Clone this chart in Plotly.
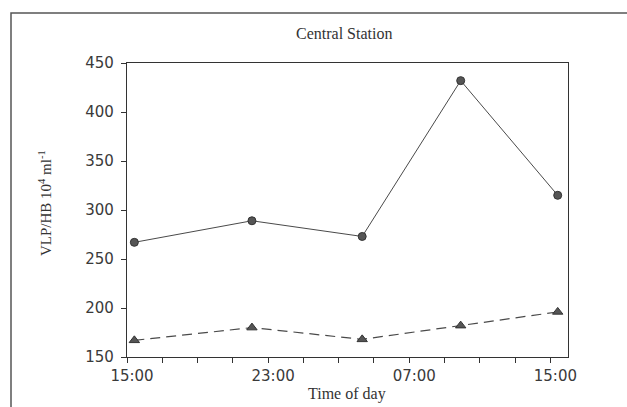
import plotly.graph_objects as go

# Data
times = ["2000-01-01 15:25", "2000-01-01 22:05", "2000-01-02 04:20",
         "2000-01-02 09:55", "2000-01-02 15:25"]
vlp_circle = [267, 289, 273, 432, 315]
vlp_triangle = [167, 180, 168, 182, 196]
y_ticks = [150, 200, 250, 300, 350, 400, 450]

W, H = 627, 407
L, R, T, B = 127, 59, 63, 50
pw, ph = W - L - R, H - T - B

def px_x(x):
    return (x - L) / pw

def px_y(y):
    return (H - B - y) / ph

fig = go.Figure()
fig.add_trace(go.Scatter(
    x=times, y=vlp_circle, mode="lines+markers",
    line=dict(color="#4a4a4a", width=1),
    marker=dict(symbol="circle", size=8, color="#555555",
                line=dict(color="#333333", width=1)),
    showlegend=False))
fig.add_trace(go.Scatter(
    x=times, y=vlp_triangle, mode="lines+markers",
    line=dict(color="#4a4a4a", width=1.2, dash="10px,6px"),
    marker=dict(symbol="triangle-up", size=9, color="#555555",
                line=dict(color="#333333", width=1)),
    showlegend=False))

axis_font = dict(family="DejaVu Sans", size=15, color="#3a3a3a")
serif = "Liberation Serif, Times New Roman, serif"

fig.update_xaxes(
    type="date",
    range=["2000-01-01 15:00", "2000-01-02 16:00"],
    tickmode="linear", tick0="2000-01-01 15:00", dtick=8 * 3600000,
    tickformat="%H:%M",
    ticks="outside", ticklen=5, tickcolor="#333333", tickwidth=1,
    minor=dict(ticks="outside", dtick=2 * 3600000, tick0="2000-01-01 15:00",
               ticklen=5, tickcolor="#333333", tickwidth=1, showgrid=False),
    showline=True, linecolor="#333333", linewidth=1.2, mirror=True,
    showgrid=False, zeroline=False, tickfont=axis_font,
    ticklabelstandoff=0, ticklabelshift=5,
)
fig.update_yaxes(
    range=[150, 450], tickmode="array", tickvals=y_ticks,
    ticks="outside", ticklen=5, tickcolor="#333333", tickwidth=1,
    showline=True, linecolor="#333333", linewidth=1.2, mirror=True,
    showgrid=False, zeroline=False, tickfont=axis_font,
    ticklabelstandoff=4,
)

fig.update_layout(
    width=W, height=H,
    margin=dict(l=L, r=R, t=T, b=B),
    paper_bgcolor="white", plot_bgcolor="white",
    annotations=[
        dict(text="Central Station", xref="paper", yref="paper",
             x=px_x(344), y=px_y(33), showarrow=False,
             xanchor="center", yanchor="middle",
             font=dict(family=serif, size=16, color="#333333")),
        dict(text="Time of day", xref="paper", yref="paper",
             x=px_x(347), y=px_y(394), showarrow=False,
             xanchor="center", yanchor="middle",
             font=dict(family=serif, size=16, color="#333333")),
        dict(text="VLP/HB 10<sup>4</sup> ml<sup>-1</sup>", xref="paper",
             yref="paper", x=px_x(45), y=px_y(203), showarrow=False,
             textangle=-90, xanchor="center", yanchor="middle",
             font=dict(family=serif, size=15, color="#333333")),
    ],
    shapes=[
        dict(type="rect", xref="paper", yref="paper",
             x0=px_x(11), y0=px_y(415), x1=px_x(640), y1=px_y(13),
             line=dict(color="#555555", width=1.5), layer="below"),
    ],
)

fig.write_html("out.html",
               config={"displayModeBar": False},
               post_script="document.body.style.margin='0';"
                           "document.body.style.overflow='hidden';")
